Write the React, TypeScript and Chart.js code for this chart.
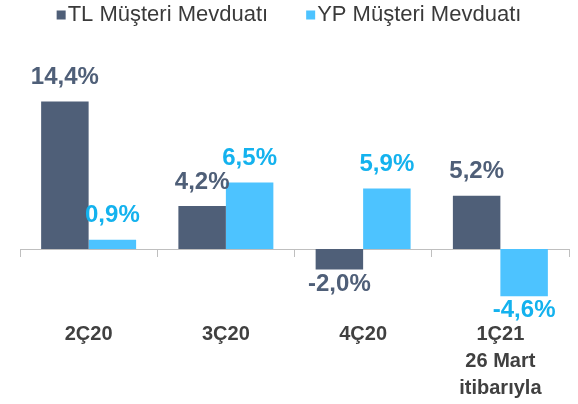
import React, { useEffect, useRef } from "react";
import { Chart, registerables } from "chart.js";

Chart.register(...registerables);

const categories: (string | string[])[] = ["2Ç20", "3Ç20", "4Ç20", ["1Ç21", "26 Mart", "itibarıyla"]];
const seriesNames = ["TL Müşteri Mevduatı", "YP Müşteri Mevduatı"];
const tlValues = [14.4, 4.2, -2.0, 5.2];
const ypValues = [0.9, 6.5, 5.9, -4.6];
const yMin = -6;
const yMax = 17;

const TL_COLOR = "#4F5F78";
const YP_COLOR = "#4DC3FF";
const TL_LABEL = "#4F5F78";
const YP_LABEL = "#14B2EE";

const fmt = (v: number) => v.toFixed(1).replace(".", ",") + "%";

const valueLabelPlugin = {
  id: "valueLabels",
  afterDatasetsDraw(chart: any) {
    const ctx = chart.ctx;
    ctx.save();
    ctx.font = "bold 24px 'Liberation Sans', Arial, sans-serif";
    ctx.textAlign = "center";
    ctx.textBaseline = "middle";
    chart.data.datasets.forEach((ds: any, di: number) => {
      const meta = chart.getDatasetMeta(di);
      ctx.fillStyle = ds.labelColor;
      meta.data.forEach((bar: any, i: number) => {
        const v = ds.data[i];
        const y = v >= 0 ? bar.y - 24 : bar.y + 14.5;
        ctx.fillText(fmt(v), bar.x, y);
      });
    });
    ctx.restore();
  },
};

const legendPlugin = {
  id: "customLegend",
  afterDraw(chart: any) {
    const ctx = chart.ctx;
    ctx.save();
    ctx.font = "22px 'Liberation Sans', Arial, sans-serif";
    ctx.textBaseline = "middle";
    ctx.textAlign = "left";
    const box = 9;
    const gapBox = 2;
    const gapItem = 38;
    const items = chart.data.datasets.map((ds: any) => ({
      label: ds.label,
      color: ds.backgroundColor,
      w: ctx.measureText(ds.label).width,
    }));
    const total = items.reduce((s: number, it: any) => s + box + gapBox + it.w, 0) + gapItem * (items.length - 1);
    let x = (chart.width - total) / 2;
    const cy = 15;
    items.forEach((it: any) => {
      ctx.fillStyle = it.color;
      ctx.fillRect(x, cy - box / 2, box, box);
      x += box + gapBox;
      ctx.fillStyle = "#3A3A3A";
      ctx.fillText(it.label, x, cy);
      x += it.w + gapItem;
    });
    ctx.restore();
  },
};

export default function App() {
  const ref = useRef<HTMLCanvasElement>(null);
  useEffect(() => {
    document.body.style.margin = "0";
    if (!ref.current) return;
    const chart = new Chart(ref.current, {
      type: "bar",
      data: {
        labels: categories,
        datasets: [
          {
            label: seriesNames[0],
            data: tlValues,
            backgroundColor: TL_COLOR,
            labelColor: TL_LABEL,
            categoryPercentage: 0.692,
            barPercentage: 1,
          } as any,
          {
            label: seriesNames[1],
            data: ypValues,
            backgroundColor: YP_COLOR,
            labelColor: YP_LABEL,
            categoryPercentage: 0.692,
            barPercentage: 1,
          } as any,
        ],
      },
      options: {
        animation: false,
        responsive: false,
        layout: { padding: { top: 74.75, bottom: 93.5, left: 20, right: 9 } },
        plugins: { legend: { display: false }, tooltip: { enabled: false } },
        scales: {
          x: {
            position: { y: 0 } as any,
            afterFit: (s: any) => {
              s.paddingLeft = 0;
              s.paddingRight = 0;
            },
            grid: {
              offset: true,
              drawOnChartArea: false,
              drawTicks: true,
              tickLength: 7,
              color: "#BFBFBF",
              lineWidth: 1,
            },
            border: { display: true, color: "#BFBFBF", width: 1 },
            ticks: {
              padding: 64.5,
              autoSkip: false,
              maxRotation: 0,
              color: "#404040",
              font: { family: "'Liberation Sans Narrow', 'Liberation Sans', Arial, sans-serif", size: 20, weight: "bold", lineHeight: 27 / 20 },
            },
          },
          y: {
            display: false,
            min: yMin,
            max: yMax,
          },
        },
      },
      plugins: [valueLabelPlugin, legendPlugin],
    });
    return () => chart.destroy();
  }, []);
  return (
    <div style={{ width: 578, height: 404 }}>
      <canvas ref={ref} width={578} height={404} />
    </div>
  );
}
